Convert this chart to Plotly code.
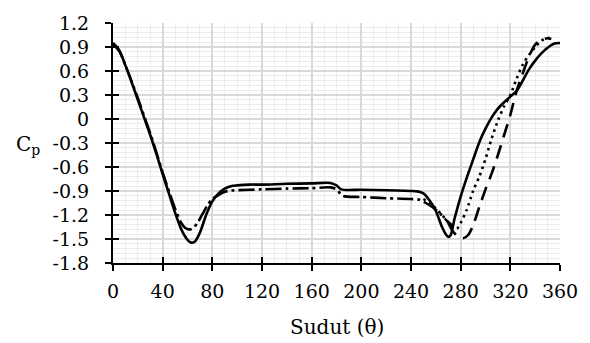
import plotly.graph_objects as go

# Solid series
solid_x = [0, 5, 10, 15, 20, 25, 30, 35, 40, 45, 50, 55, 60, 63, 66, 70, 75, 80, 85, 90, 95, 100,
           110, 120, 140, 160, 175, 180, 184, 200, 220, 240, 245, 250, 255, 260, 265, 268, 270, 272,
           275, 280, 285, 290, 295, 300, 305, 310, 315, 320, 325, 330, 335, 340, 345, 350, 355, 360]
solid_y = [0.95, 0.86, 0.67, 0.46, 0.24, 0.02, -0.2, -0.44, -0.69, -0.93, -1.17, -1.38, -1.51, -1.545,
           -1.53, -1.42, -1.2, -1.03, -0.93, -0.87, -0.84, -0.83, -0.82, -0.82, -0.81, -0.805, -0.8,
           -0.83, -0.88, -0.885, -0.89, -0.9, -0.905, -0.93, -1.02, -1.15, -1.35, -1.44, -1.475, -1.45,
           -1.25, -0.97, -0.73, -0.51, -0.29, -0.12, 0.02, 0.13, 0.21, 0.28, 0.35, 0.48, 0.62, 0.73,
           0.82, 0.89, 0.94, 0.95]

# Dash-dot series
dashdot_x = [0, 5, 10, 15, 20, 25, 30, 35, 40, 45, 50, 55, 58, 61, 64, 68, 72, 76, 80, 85, 90, 95, 100,
             120, 140, 160, 175, 180, 185, 200, 220, 240, 247, 252, 258, 264, 270, 274]
dashdot_y = [0.93, 0.85, 0.67, 0.47, 0.26, 0.04, -0.18, -0.42, -0.67, -0.9, -1.12, -1.3, -1.36, -1.38,
             -1.37, -1.3, -1.19, -1.08, -1.0, -0.95, -0.91, -0.895, -0.89, -0.88, -0.87, -0.865, -0.855,
             -0.88, -0.96, -0.975, -0.99, -1.0, -1.01, -1.05, -1.11, -1.19, -1.29, -1.34]

# Dotted series
dot_x = [250, 255, 260, 265, 270, 274, 277, 280, 285, 290, 295, 300, 305, 310, 315, 320, 325, 330,
         335, 340, 345, 350, 353]
dot_y = [-1.0, -1.05, -1.12, -1.2, -1.29, -1.36, -1.37, -1.3, -1.13, -0.9, -0.72, -0.5, -0.24, -0.02,
         0.16, 0.3, 0.5, 0.68, 0.8, 0.9, 0.98, 1.01, 1.02]

# Long dash series
dash_x = [270, 274, 278, 282, 286, 290, 295, 300, 305, 310, 315, 320, 325, 330, 335, 340, 345, 350, 353]
dash_y = [-1.3, -1.41, -1.47, -1.49, -1.45, -1.33, -1.1, -0.88, -0.68, -0.45, -0.2, 0.05, 0.35, 0.57,
          0.78, 0.93, 0.99, 1.01, 1.0]

x_ticks = [0, 40, 80, 120, 160, 200, 240, 280, 320, 360]
y_ticks = [1.2, 0.9, 0.6, 0.3, 0, -0.3, -0.6, -0.9, -1.2, -1.5, -1.8]
y_labels = ["1.2", "0.9", "0.6", "0.3", "0", "-0.3", "-0.6", "-0.9", "-1.2", "-1.5", "-1.8"]

FONT = "DejaVu Serif"
LW = 2.6
SM = 0.8

fig = go.Figure()
fig.add_trace(go.Scatter(x=dashdot_x, y=dashdot_y, mode="lines", line=dict(color="black", width=LW,
                         dash="16px,4px,3px,4px", shape="spline", smoothing=SM), showlegend=False))
fig.add_trace(go.Scatter(x=dot_x, y=dot_y, mode="lines", line=dict(color="black", width=LW,
                         dash="2.5px,4px", shape="spline", smoothing=SM), showlegend=False))
fig.add_trace(go.Scatter(x=dash_x, y=dash_y, mode="lines", line=dict(color="black", width=LW,
                         dash="14px,8px", shape="spline", smoothing=SM), showlegend=False))
fig.add_trace(go.Scatter(x=solid_x, y=solid_y, mode="lines", line=dict(color="black", width=LW,
                         shape="spline", smoothing=SM), showlegend=False))
# invisible trace for overlay axes (inside ticks)
fig.add_trace(go.Scatter(x=[0], y=[0], mode="lines", xaxis="x2", yaxis="y2", showlegend=False,
                         hoverinfo="skip", line=dict(color="rgba(0,0,0,0)")))

fig.update_layout(
    width=590, height=343,
    margin=dict(l=113, r=25, t=20, b=80),
    paper_bgcolor="white", plot_bgcolor="white",
    font=dict(family=FONT, size=19, color="black"),
    xaxis=dict(range=[0, 360], tickvals=x_ticks, ticks="outside", ticklen=6, tickwidth=2,
               tickcolor="black", showline=True, linecolor="black", linewidth=2,
               showgrid=True, gridcolor="#d9d9d9", gridwidth=1.5, zeroline=False,
               minor=dict(dtick=10, showgrid=True, gridcolor="#ececec", gridwidth=1),
               ticklabelstandoff=4, tickfont=dict(family=FONT, size=19, color="black")),
    yaxis=dict(range=[-1.8, 1.2], tickvals=y_ticks, ticktext=y_labels, ticks="outside", ticklen=6,
               tickwidth=2, tickcolor="black", showline=True, linecolor="black", linewidth=2,
               showgrid=True, gridcolor="#d9d9d9", gridwidth=1.5, zeroline=False,
               minor=dict(dtick=0.06, tick0=0, showgrid=True, gridcolor="#ececec", gridwidth=1),
               ticklabelstandoff=12, tickfont=dict(family=FONT, size=19, color="black")),
    xaxis2=dict(range=[0, 360], overlaying="x", anchor="y", side="bottom", tickvals=x_ticks,
                ticks="inside", ticklen=6, tickwidth=2, tickcolor="black", showticklabels=False,
                showgrid=False, zeroline=False, showline=False),
    yaxis2=dict(range=[-1.8, 1.2], overlaying="y", anchor="x", side="left", tickvals=y_ticks,
                ticks="inside", ticklen=6, tickwidth=2, tickcolor="black", showticklabels=False,
                showgrid=False, zeroline=False, showline=False),
    annotations=[
        dict(text="Sudut (θ)", xref="paper", yref="paper", x=0.5, y=-0.265, showarrow=False,
             xanchor="center", yanchor="middle", font=dict(family=FONT, size=20, color="black")),
        dict(text="C<sub>p</sub>", xref="paper", yref="paper", x=-0.19, y=0.49, showarrow=False,
             xanchor="center", yanchor="middle", font=dict(family=FONT, size=20, color="black")),
    ],
)

fig.write_html("out.html")
